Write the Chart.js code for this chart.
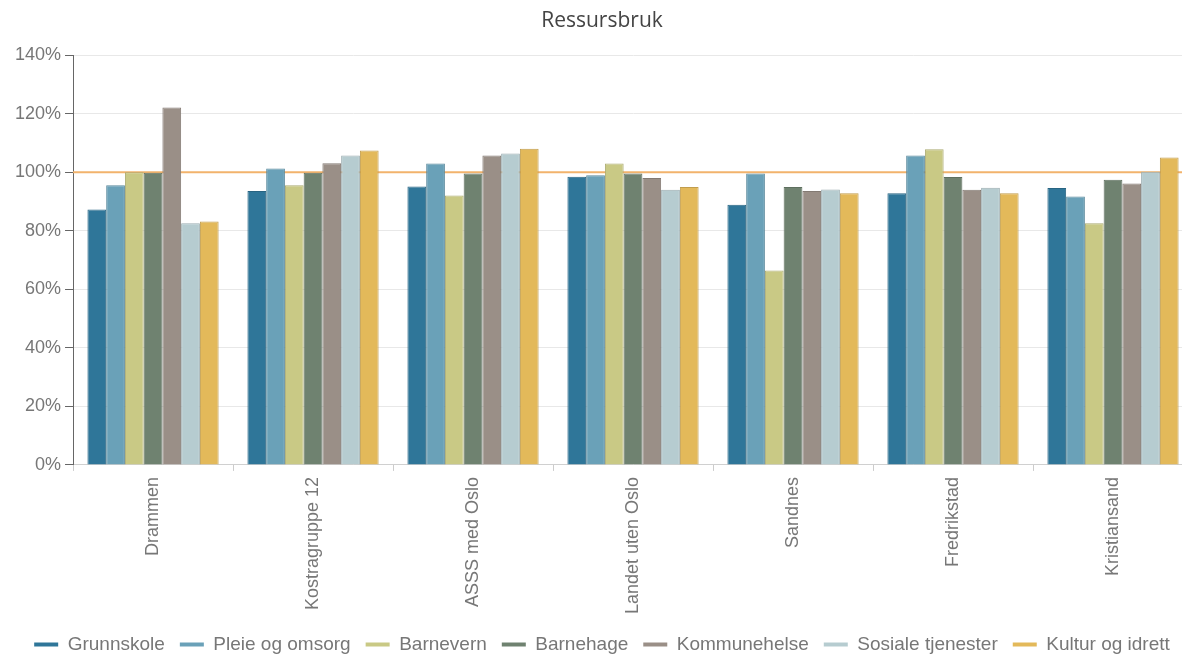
<!DOCTYPE html>
<html>
<head>
<meta charset="utf-8">
<script src="https://cdn.jsdelivr.net/npm/chart.js@4/dist/chart.umd.min.js"></script>
<style>
  html, body { margin: 0; padding: 0; background: #fff; overflow: hidden; }
  #wrap { width: 1193px; height: 664px; }
</style>
</head>
<body>
<div id="wrap"><canvas id="ressursChart"></canvas></div>
<script>
    const categories = ['Drammen', 'Kostragruppe 12', 'ASSS med Oslo', 'Landet uten Oslo', 'Sandnes', 'Fredrikstad', 'Kristiansand'];

    const grunnskole = [87.3, 93.6, 95.1, 98.5, 88.9, 92.8, 94.6];
    const pleieOgOmsorg = [95.6, 101.3, 103.0, 99.0, 99.6, 105.7, 91.7];
    const barnevern = [100.0, 95.6, 92.1, 103.0, 66.4, 107.9, 82.6];
    const barnehage = [99.8, 99.8, 99.6, 99.6, 95.0, 98.4, 97.4];
    const kommunehelse = [122.1, 103.1, 105.7, 98.0, 93.6, 94.0, 96.2];
    const sosialeTjenester = [82.6, 105.7, 106.4, 94.0, 94.1, 94.7, 100.2];
    const kulturOgIdrett = [83.2, 107.4, 108.0, 95.0, 92.8, 92.8, 105.0];

    const yTicks = [0, 20, 40, 60, 80, 100, 120, 140];
    const referenceValue = 100;

    const series = [
        { label: 'Grunnskole', data: grunnskole, color: '#2f7699' },
        { label: 'Pleie og omsorg', data: pleieOgOmsorg, color: '#6aa1b8' },
        { label: 'Barnevern', data: barnevern, color: '#c9c985' },
        { label: 'Barnehage', data: barnehage, color: '#6f8270' },
        { label: 'Kommunehelse', data: kommunehelse, color: '#9a8f87' },
        { label: 'Sosiale tjenester', data: sosialeTjenester, color: '#b6ccd0' },
        { label: 'Kultur og idrett', data: kulturOgIdrett, color: '#e3b95a' }
    ];

    const darken = (hex, f = 0.85) => {
        const n = parseInt(hex.slice(1), 16);
        const r = Math.round(((n >> 16) & 255) * f);
        const g = Math.round(((n >> 8) & 255) * f);
        const b = Math.round((n & 255) * f);
        return `rgb(${r},${g},${b})`;
    };

    // orange 100% line drawn from the y scale, behind the bars
    const referenceLine = {
        id: 'referenceLine',
        beforeDatasetsDraw(chart) {
            const { ctx, chartArea, scales } = chart;
            const y = scales.y.getPixelForValue(referenceValue);
            ctx.save();
            ctx.strokeStyle = '#f2b36c';
            ctx.lineWidth = 2;
            ctx.beginPath();
            ctx.moveTo(chartArea.left, y);
            ctx.lineTo(chartArea.right, y);
            ctx.stroke();
            ctx.restore();
        }
    };

    const labelFont = { family: "'Liberation Sans', Arial, sans-serif", size: 18 };

    const ctx = document.getElementById('ressursChart').getContext('2d');
    new Chart(ctx, {
        type: 'bar',
        data: {
            labels: categories,
            datasets: series.map(s => ({
                label: s.label,
                data: s.data,
                backgroundColor: s.color,
                borderColor: darken(s.color),
                borderWidth: 1,
                categoryPercentage: 0.82,
                barPercentage: 1.0
            }))
        },
        options: {
            responsive: true,
            maintainAspectRatio: false,
            animation: false,
            layout: { padding: { left: 11, right: 0, top: 4, bottom: 0 } },
            plugins: {
                title: {
                    display: true,
                    text: 'Ressursbruk',
                    color: '#444',
                    font: { family: "'Open Sans', sans-serif", size: 21, weight: 'normal' },
                    padding: { top: 4, bottom: 22 }
                },
                legend: {
                    position: 'bottom',
                    labels: {
                        font: { family: "'Liberation Sans', Arial, sans-serif", size: 19 },
                        color: '#777',
                        usePointStyle: true,
                        pointStyle: 'line',
                        pointStyleWidth: 24,
                        padding: 15,
                        generateLabels(chart) {
                            const items = Chart.defaults.plugins.legend.labels.generateLabels(chart);
                            items.forEach((item, i) => {
                                item.strokeStyle = series[i].color;
                                item.lineWidth = 4;
                            });
                            return items;
                        }
                    }
                },
                tooltip: { enabled: false }
            },
            scales: {
                x: {
                    grid: {
                        display: true,
                        offset: true,
                        drawOnChartArea: false,
                        drawTicks: true,
                        tickLength: 6,
                        tickColor: '#ccc'
                    },
                    border: { display: true, color: '#d0d0d0' },
                    ticks: {
                        font: labelFont,
                        color: '#777',
                        maxRotation: 90,
                        minRotation: 90,
                        padding: 6
                    }
                },
                y: {
                    min: 0,
                    max: 140,
                    afterBuildTicks(axis) {
                        axis.ticks = yTicks.map(v => ({ value: v }));
                    },
                    grid: {
                        color: '#e8e8e8',
                        tickColor: '#666',
                        tickLength: 8
                    },
                    border: { display: true, color: '#666' },
                    ticks: {
                        font: labelFont,
                        color: '#777',
                        padding: 4,
                        callback: v => v + '%'
                    }
                }
            }
        },
        plugins: [referenceLine]
    });
</script>
</body>
</html>
